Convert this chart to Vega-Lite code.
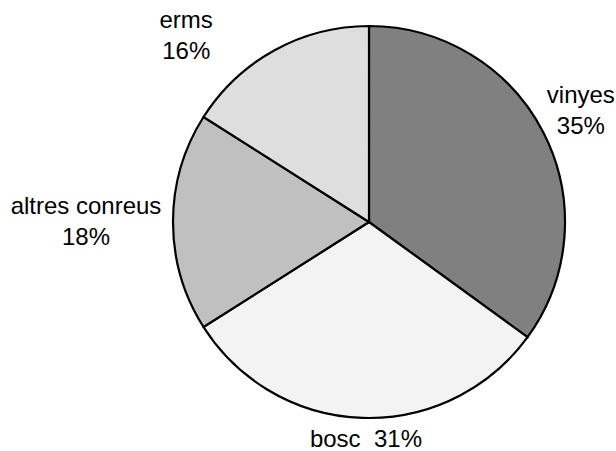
{
  "$schema": "https://vega.github.io/schema/vega-lite/v6.json",
  "width": 392,
  "height": 392,
  "autosize": {"type": "none"},
  "padding": {"left": 173, "top": 26, "right": 51, "bottom": 33},
  "background": "white",
  "config": {"view": {"stroke": null}},
  "data": {
    "values": [
      {"cat": "vinyes", "value": 35, "order": 1, "label": "vinyes\n35%"},
      {"cat": "bosc", "value": 31, "order": 2, "label": "bosc\u00a0\u00a031%"},
      {"cat": "altres conreus", "value": 18, "order": 3, "label": "altres conreus\n18%"},
      {"cat": "erms", "value": 16, "order": 4, "label": "erms\n16%"}
    ]
  },
  "encoding": {
    "theta": {"field": "value", "type": "quantitative", "stack": true},
    "order": {"field": "order", "type": "quantitative"}
  },
  "layer": [
    {
      "mark": {"type": "arc", "stroke": "black", "strokeWidth": 2.2},
      "encoding": {
        "fill": {
          "field": "cat",
          "type": "nominal",
          "scale": {
            "domain": ["vinyes", "bosc", "altres conreus", "erms"],
            "range": ["#808080", "#f3f3f3", "#c0c0c0", "#dedede"]
          },
          "legend": null
        }
      }
    },
    {
      "mark": {"type": "text", "radius": 240, "dx": -2, "dy": -10, "font": "Liberation Sans", "fontSize": 24, "lineBreak": "\n", "lineHeight": 31, "baseline": "alphabetic", "align": "center", "color": "black"},
      "encoding": {"text": {"condition": {"test": "datum.cat === 'vinyes'", "field": "label"}, "value": ""}}
    },
    {
      "mark": {"type": "text", "radius": 225, "dx": 4, "dy": 0, "font": "Liberation Sans", "fontSize": 24, "lineBreak": "\n", "lineHeight": 31, "baseline": "alphabetic", "align": "center", "color": "black"},
      "encoding": {"text": {"condition": {"test": "datum.cat === 'bosc'", "field": "label"}, "value": ""}}
    },
    {
      "mark": {"type": "text", "radius": 283, "dx": 0, "dy": -8, "font": "Liberation Sans", "fontSize": 24, "lineBreak": "\n", "lineHeight": 31, "baseline": "alphabetic", "align": "center", "color": "black"},
      "encoding": {"text": {"condition": {"test": "datum.cat === 'altres conreus'", "field": "label"}, "value": ""}}
    },
    {
      "mark": {"type": "text", "radius": 230, "dx": -72, "dy": 8, "font": "Liberation Sans", "fontSize": 24, "lineBreak": "\n", "lineHeight": 31, "baseline": "alphabetic", "align": "center", "color": "black"},
      "encoding": {"text": {"condition": {"test": "datum.cat === 'erms'", "field": "label"}, "value": ""}}
    }
  ]
}
